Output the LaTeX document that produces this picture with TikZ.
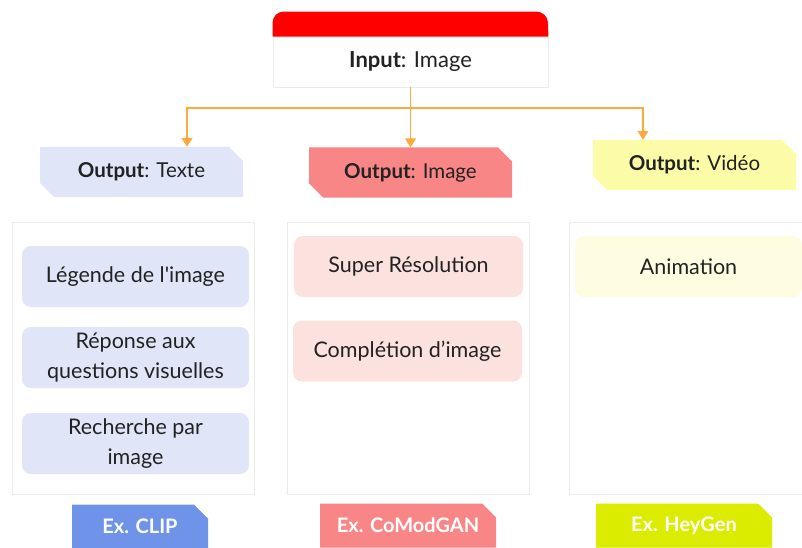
\documentclass[tikz,border=0pt]{standalone}
\usepackage{fontspec}
\setmainfont{Lato}
\usetikzlibrary{shapes.misc,arrows.meta}
\definecolor{lav}{HTML}{E0E6F8}
\definecolor{salmon}{HTML}{F98686}
\definecolor{ylw}{HTML}{FCFCA8}
\definecolor{pinkitem}{HTML}{FCE2DF}
\definecolor{ylwitem}{HTML}{FEFDE1}
\definecolor{clipblue}{HTML}{6F93E9}
\definecolor{lime}{HTML}{DCEC00}
\definecolor{panelline}{HTML}{EBEBEB}
\definecolor{arrorange}{HTML}{FFA83C}
\definecolor{txt}{HTML}{222222}
\tikzset{
  x=1pt, y=-1pt,
  outbox/.style={chamfered rectangle, chamfered rectangle corners={north east,south west},
    chamfered rectangle xsep=7pt, chamfered rectangle ysep=7pt, inner sep=0pt,
    minimum width=203pt, minimum height=50pt, text=txt, font=\fontsize{20.5}{24}\selectfont},
  exbox/.style={chamfered rectangle, chamfered rectangle corners={north east},
    chamfered rectangle xsep=7pt, chamfered rectangle ysep=7pt, inner sep=0pt,
    minimum height=44pt, text=white, font=\fontsize{20}{24}\selectfont\bfseries},
  panel/.style={draw=panelline, line width=0.8pt, fill=white, inner sep=0pt,
    minimum width=242pt, minimum height=272pt},
  item/.style={rounded corners=9pt, inner sep=0pt, minimum width=227pt, minimum height=61pt,
    align=center, text=txt, font=\fontsize{21.5}{30}\selectfont},
  arr/.style={draw=arrorange, line width=1.3pt, -{Triangle[width=11pt,length=9pt]}},
}
\begin{document}
\begin{tikzpicture}
\useasboundingbox (0,0) rectangle (802,548);
% input
\node[draw=panelline, fill=white, line width=0.8pt, minimum width=275pt, minimum height=50pt,
  inner sep=0pt, text=txt, font=\fontsize{22}{26}\selectfont] (in) at (410.5,62) {\textbf{Input}: Image};
\fill[red] (in.north west) [rounded corners=11pt]-- ++(0,-25) -- ++(275,0) [sharp corners]-- (in.north east) -- cycle;
% outputs
\node[outbox, fill=lav] (o1) at (141.5,172) {\textbf{Output}: Texte};
\node[outbox, fill=salmon] (o2) at (410.5,172.5) {\textbf{Output}: Image};
\node[outbox, fill=ylw] (o3) at (694.5,165) {\textbf{Output}: Vidéo};
% connectors
\coordinate (j) at (410,108);
\draw[arr] (in.south) -- (o2.north);
\draw[arr] (j) -| ([xshift=45.5pt]o1.north);
\draw[arr] (j) -| ([xshift=-51.5pt]o3.north);
% panels
\node[panel] (p1) at (133,358) {};
\node[panel] (p2) at (408,358) {};
\node[panel] (p3) at (690,358) {};
% items
\node[item, fill=lav] (i1) at (135.5,276.5) {Légende de l\textquotesingle image};
\node[item, fill=lav] (i2) at (135.5,357.5) {Réponse aux\\questions visuelles};
\node[item, fill=lav] (i3) at (135.5,443.5) {Recherche par\\image};
\node[item, fill=pinkitem, minimum width=229pt] (i4) at (408.5,266.5) {Super Résolution};
\node[item, fill=pinkitem, minimum width=229pt] (i5) at (407.5,351) {Complétion d’image};
\node[item, fill=ylwitem] (i6) at (688.5,266.5) {Animation};
% examples
\node[exbox, fill=clipblue, minimum width=136pt] (e1) at (140,526.5) {Ex. CLIP};
\node[exbox, fill=salmon, minimum width=176pt] (e2) at (408,525.5) {Ex. CoModGAN};
\node[exbox, fill=lime, minimum width=176pt] (e3) at (684,525.5) {Ex. HeyGen};
\end{tikzpicture}
\end{document}
